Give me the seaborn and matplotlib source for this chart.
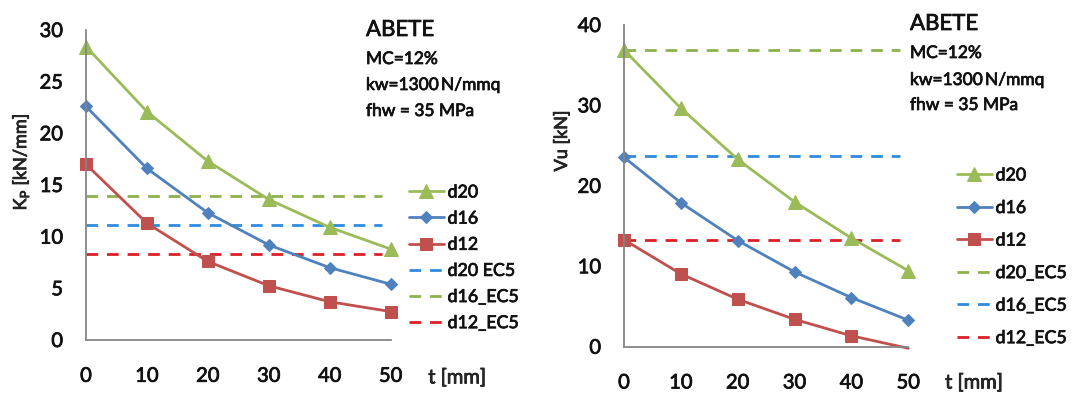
import matplotlib
matplotlib.use("Agg")
import matplotlib.pyplot as plt
import matplotlib.patheffects as pe
import seaborn as sns
from matplotlib.ticker import MultipleLocator, NullFormatter

# ---------------- data ----------------
t = [0, 10, 20, 30, 40, 50]
ec5_span = [0, 48.5]

kp_d20 = [28.4, 22.1, 17.3, 13.6, 10.9, 8.8]
kp_d16 = [22.6, 16.6, 12.3, 9.2, 7.0, 5.4]
kp_d12 = [17.0, 11.3, 7.6, 5.25, 3.7, 2.75]
kp_ec5_labels = ["d20 EC5", "d16_EC5", "d12_EC5"]
kp_ec5_values = [11.1, 13.9, 8.3]

vu_d20 = [36.9, 29.65, 23.3, 18.0, 13.5, 9.45]
vu_d16 = [23.55, 17.9, 13.2, 9.3, 6.1, 3.3]
vu_d12 = [13.3, 9.05, 5.9, 3.4, 1.35, -0.2]
vu_ec5_labels = ["d20_EC5", "d16_EC5", "d12_EC5"]
vu_ec5_values = [36.9, 23.7, 13.3]

annot_title = "ABETE"
annot_lines = ["MC=12%", "kw=1300\u2009N/mmq", "fhw = 35 MPa"]

# ---------------- style ----------------
sns.set_style("white")
plt.rcParams["font.family"] = ["Lato", "DejaVu Sans"]
plt.rcParams["mathtext.fontset"] = "custom"
plt.rcParams["mathtext.rm"] = "Lato"
TXT = "#111111"
plt.rcParams["text.color"] = TXT
plt.rcParams["xtick.color"] = TXT
plt.rcParams["ytick.color"] = TXT
BOLDEN = [pe.withStroke(linewidth=0.55, foreground=TXT)]

GREEN, BLUE, RED = "#9BBB59", "#4F81BD", "#C0504D"
GREEN_D, BLUE_D, RED_D = "#8DB14C", "#2D8BE0", "#DC1F26"
AXC = "#868686"

fig = plt.figure(figsize=(10.74, 3.93), dpi=100)
W, H = 1074, 393

def px_axes(x0, x1, ytop, ybot):
    return fig.add_axes([x0 / W, 1 - ybot / H, (x1 - x0) / W, (ybot - ytop) / H])

ax1 = px_axes(86, 390.7, 30, 340)
ax2 = px_axes(624, 908.3, 25, 346.7)

def style_axis(ax, ymax, ystep_major, ylabel, lab_x, lab_y, xlab_x, xlab_y):
    ax.set_xlim(0, 50)
    ax.set_ylim(0, ymax)
    for s in ["top", "right"]:
        ax.spines[s].set_visible(False)
    for s in ["left", "bottom"]:
        ax.spines[s].set_color(AXC)
        ax.spines[s].set_linewidth(1.3)
    ax.xaxis.set_major_locator(MultipleLocator(10))
    ax.xaxis.set_minor_locator(MultipleLocator(5))
    ax.yaxis.set_major_locator(MultipleLocator(ystep_major))
    ax.yaxis.set_minor_locator(MultipleLocator(5))
    ax.xaxis.set_minor_formatter(NullFormatter())
    ax.yaxis.set_minor_formatter(NullFormatter())
    ax.tick_params(axis="x", which="both", direction="out", length=4, width=1.2,
                   color=AXC, pad=16, labelsize=14.5)
    ax.tick_params(axis="y", which="both", direction="out", length=6, width=1.2,
                   color=AXC, pad=10.5, labelsize=14.5)
    ax.set_ylabel(ylabel, fontsize=13)
    ax.yaxis.set_label_coords(lab_x, lab_y)
    ax.set_xlabel("t [mm]", fontsize=14.5)
    ax.xaxis.set_label_coords(xlab_x, xlab_y)
    ax.xaxis.label.set_va("center")
    for lab in ax.get_xticklabels() + ax.get_yticklabels() + [ax.xaxis.label, ax.yaxis.label]:
        lab.set_path_effects(BOLDEN)

def draw(ax, d20, d16, d12, ec5_labels, ec5_values, ec5_colors, d12_markevery):
    h20 = sns.lineplot(x=t, y=d20, ax=ax, color=GREEN, marker="^", markersize=9.5,
                       markeredgecolor=GREEN, linewidth=2.0, clip_on=False, label="d20").lines[-1]
    h16 = sns.lineplot(x=t, y=d16, ax=ax, color=BLUE, marker="D", markersize=6,
                       markeredgecolor=BLUE, linewidth=2.0, clip_on=False, label="d16").lines[-1]
    h12 = sns.lineplot(x=t, y=d12, ax=ax, color=RED, marker="s", markersize=8,
                       markeredgecolor=RED, linewidth=2.0, clip_on=False, label="d12",
                       markevery=d12_markevery).lines[-1]
    dashed = []
    for lab, val, col in zip(ec5_labels, ec5_values, ec5_colors):
        ln = sns.lineplot(x=ec5_span, y=[val, val], ax=ax, color=col, linewidth=2.0,
                          label=lab).lines[-1]
        ln.set_dashes([4.2, 3.2])
        ln.set_zorder(1.5)
        dashed.append(ln)
    return [h20, h16, h12] + dashed

hs1 = draw(ax1, kp_d20, kp_d16, kp_d12, kp_ec5_labels, kp_ec5_values,
           [BLUE_D, GREEN_D, RED_D], None)
hs2 = draw(ax2, vu_d20, vu_d16, vu_d12, vu_ec5_labels, vu_ec5_values,
           [GREEN_D, BLUE_D, RED_D], [0, 1, 2, 3, 4])

style_axis(ax1, 30, 5, r"K$_\mathrm{P}$ [kN/mm]", -0.18, 0.574, 1.218, -0.1226)
style_axis(ax2, 40, 10, "Vu [kN]", -0.19, 0.639, 1.231, -0.113)

def make_legend(ax, handles, x, ytop, spacing):
    leg = ax.legend(handles=handles, labels=[h.get_label() for h in handles],
                    loc="upper left", bbox_to_anchor=(x / W, 1 - ytop / H),
                    bbox_transform=fig.transFigure, frameon=False, fontsize=12.8,
                    handlelength=1.95, handletextpad=0.22, labelspacing=spacing,
                    borderpad=0, borderaxespad=0)
    for tx in leg.get_texts():
        tx.set_path_effects(BOLDEN)

make_legend(ax1, hs1, 409, 184.5, 0.57)
make_legend(ax2, hs2, 957, 167.5, 0.93)

def annotate(x, y_title, ys):
    fig.text(x / W, 1 - y_title / H, annot_title, fontsize=16, va="center", ha="left",
             path_effects=BOLDEN)
    for s, yy in zip(annot_lines, ys):
        fig.text(x / W, 1 - yy / H, s, fontsize=12.5, va="center", ha="left",
                 path_effects=BOLDEN)

annotate(366, 30, [59, 85, 111])
annotate(910, 24, [53, 80, 105])

fig.savefig("out.png", dpi=100)
